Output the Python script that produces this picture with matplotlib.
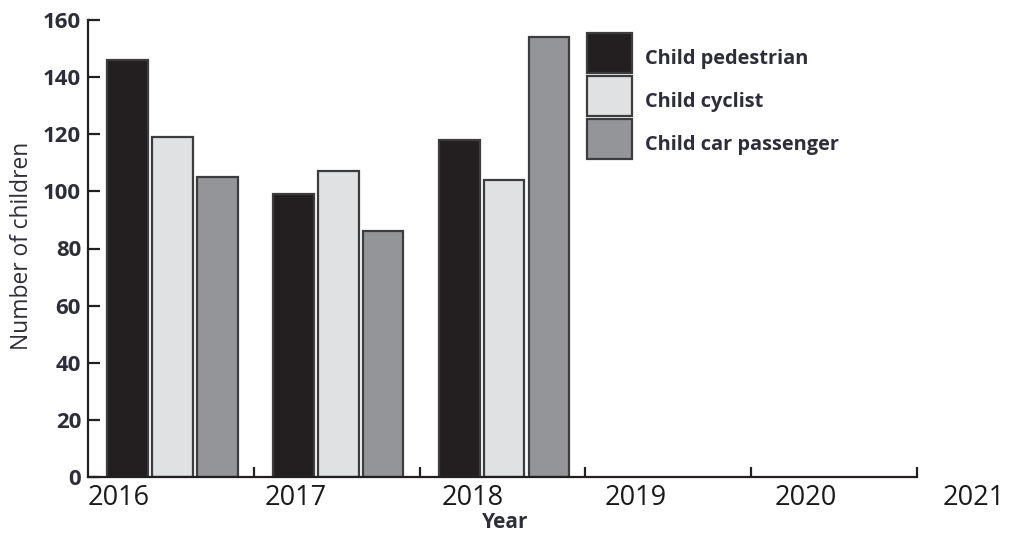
import matplotlib
matplotlib.use("Agg")
import matplotlib.pyplot as plt
from matplotlib.transforms import ScaledTranslation
import numpy as np

# ---- data ----
years = ["2016", "2017", "2018", "2019", "2020", "2021"]
series_names = ["Child pedestrian", "Child cyclist", "Child car passenger"]
pedestrian = [146, 99, 118]
cyclist = [119, 107, 104]
car_passenger = [105, 86, 154]
y_ticks = [0, 20, 40, 60, 80, 100, 120, 140, 160]

# ---- styles ----
colors = ["#231f20", "#e0e1e3", "#939598"]
edge = "#3c3c3e"
text_col = "#2e2e3a"

fig = plt.figure(figsize=(10.12, 5.33), dpi=100)
ax = fig.add_axes([88 / 1012, 56 / 533, 829 / 1012, 457 / 533])

n_groups = len(pedestrian)
idx = np.arange(n_groups)
offsets = [0.24, 0.51, 0.78]
width = 0.245
handles = []
for vals, off, c, name in zip([pedestrian, cyclist, car_passenger], offsets, colors, series_names):
    h = ax.bar(idx + off, vals, width=width, color=c, edgecolor=edge, linewidth=1.6,
               label=name, zorder=2)
    handles.append(h)

ax.set_xlim(0, 5)
ax.set_ylim(0, 160)
ax.set_yticks(y_ticks)
ax.set_yticklabels([str(v) for v in y_ticks], fontsize=16, fontweight="bold",
                   color=text_col, family="Open Sans")
ax.set_xticks([1, 2, 3, 4, 5])
ax.set_xticklabels([])

for s in ["top", "right"]:
    ax.spines[s].set_visible(False)
for s in ["left", "bottom"]:
    ax.spines[s].set_linewidth(1.6)
    ax.spines[s].set_color("#231f20")

ax.tick_params(axis="y", direction="in", length=8.5, width=1.6, color="#231f20", pad=5)
ax.tick_params(axis="x", direction="in", length=7, width=1.6, color="#231f20")

# year labels (positions along the axis in group units)
label_pos = [0.184, 1.255, 2.322, 3.305, 4.33, 5.34]
for p, lab in zip(label_pos, years):
    ax.text(p, -0.045, lab, transform=ax.get_xaxis_transform(), ha="center", va="center",
            fontsize=19.5, family="Open Sans", color="#1a1a1a", clip_on=False)

fig.text(505 / 1012, 1 - 522 / 533, "Year", ha="center", va="center",
         fontsize=15, fontweight="bold", family="Open Sans", color=text_col)
fig.text(22 / 1012, 1 - 246 / 533, "Number of children", rotation=90, ha="center", va="center",
         fontsize=16.4, family="Open Sans", color=text_col)

fs = 14.4
leg = ax.legend(handles=handles, loc="upper left", bbox_to_anchor=(0.602, 0.972),
                frameon=False, borderpad=0, borderaxespad=0,
                handlelength=2.25, handleheight=2.70, labelspacing=0.15, handletextpad=0.65,
                prop={"family": "Open Sans", "weight": "bold", "size": fs})
shift = ScaledTranslation(0, -5 / 100, fig.dpi_scale_trans)
for t in leg.get_texts():
    t.set_color(text_col)
    t.set_transform(t.get_transform() + shift)

fig.savefig("out.png", dpi=100)
